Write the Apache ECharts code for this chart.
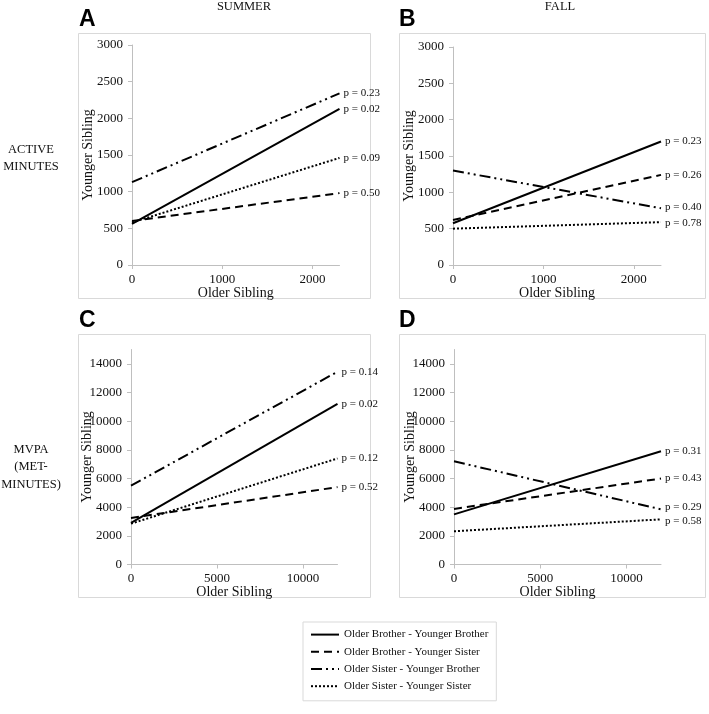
<!DOCTYPE html>
<html>
<head>
<meta charset="utf-8">
<script src="https://cdn.jsdelivr.net/npm/echarts@6/dist/echarts.min.js"></script>
<style>html,body{margin:0;padding:0;background:#fff;}#chart{width:709px;height:714px;}</style>
</head>
<body>
<div id="chart"></div>
<script>
// ---------------- data ----------------
const groups = ['Older Brother - Younger Brother', 'Older Brother - Younger Sister', 'Older Sister - Younger Brother', 'Older Sister - Younger Sister'];
const panelLetters = ['A', 'B', 'C', 'D'];
const seasons = ['SUMMER', 'FALL'];
const rowLabels = [['ACTIVE', 'MINUTES'], ['MVPA', '(MET-', 'MINUTES)']];
const xAxisName = 'Older Sibling';
const yAxisName = 'Younger Sibling';

// x range (older sibling) per panel
const xEndActive = 2300;
const xEndMvpa = 12000;
const yMaxActive = 3000;
const yMaxMvpa = 15000;
const xTicksActive = [0, 1000, 2000];
const xTicksMvpa = [0, 5000, 10000];
const yTicksActive = [0, 500, 1000, 1500, 2000, 2500, 3000];
const yTicksMvpa = [0, 2000, 4000, 6000, 8000, 10000, 12000, 14000];

// values at x = 0 and x = end, order = groups
const startA = [560, 600, 1130, 580];
const endA = [2130, 980, 2340, 1460];
const pA = ['0.02', '0.50', '0.23', '0.09'];

const startB = [575, 620, 1300, 500];
const endB = [1700, 1240, 780, 590];
const pB = ['0.23', '0.26', '0.40', '0.78'];

const startC = [2900, 3250, 5500, 2850];
const endC = [11200, 5400, 13450, 7400];
const pC = ['0.02', '0.52', '0.14', '0.12'];

const startD = [3500, 3880, 7200, 2320];
const endD = [7900, 6000, 3850, 3150];
const pD = ['0.31', '0.43', '0.29', '0.58'];

// ---------------- styles / layout ----------------
const SERIF = '"Liberation Serif", "DejaVu Serif", serif';
const SANS = '"Liberation Sans", Arial, sans-serif';
const dashTypes = ['solid', [8, 5], [11, 4, 2, 4, 2, 4], [2, 2]];
const grids = [
  { left: 132, top: 45, width: 207.5, height: 220 },
  { left: 453, top: 47, width: 208, height: 218 },
  { left: 131, top: 349.5, width: 206.5, height: 215 },
  { left: 454, top: 349.5, width: 207, height: 215 }
];
const boxes = [
  { x: 78.5, y: 33.5, w: 292, h: 265 },
  { x: 399.5, y: 33.5, w: 306, h: 265 },
  { x: 78.5, y: 334.5, w: 292, h: 263 },
  { x: 399.5, y: 334.5, w: 306, h: 263 }
];
const labelOffsets = [
  [[0, 0], [0, 0], [0, 0], [0, 0]],
  [[0, 0], [0, 0], [0, -1], [0, 1]],
  [[0, 0], [0, 0], [0, 0], [0, 0]],
  [[0, 0], [0, 0], [0, -2], [0, 2]]
];

const panels = [
  { start: startA, end: endA, p: pA, xEnd: xEndActive, yMax: yMaxActive, xt: xTicksActive, yt: yTicksActive },
  { start: startB, end: endB, p: pB, xEnd: xEndActive, yMax: yMaxActive, xt: xTicksActive, yt: yTicksActive },
  { start: startC, end: endC, p: pC, xEnd: xEndMvpa, yMax: yMaxMvpa, xt: xTicksMvpa, yt: yTicksMvpa },
  { start: startD, end: endD, p: pD, xEnd: xEndMvpa, yMax: yMaxMvpa, xt: xTicksMvpa, yt: yTicksMvpa }
];

const axisColor = '#bfbfbf';
const plain = v => String(v);
const xAxes = [], yAxes = [], series = [];
panels.forEach((pn, i) => {
  xAxes.push({
    type: 'value', gridIndex: i, min: 0, max: pn.xEnd,
    name: xAxisName, nameLocation: 'middle', nameGap: 21, nameMoveOverlap: false,
    nameTextStyle: { fontFamily: SERIF, fontSize: 14, color: '#111' },
    splitLine: { show: false },
    axisLine: { show: true, lineStyle: { color: axisColor, width: 1 } },
    axisTick: { show: true, length: 4, lineStyle: { color: axisColor }, customValues: pn.xt },
    axisLabel: { fontFamily: SERIF, fontSize: 13, color: '#111', margin: 8, customValues: pn.xt, formatter: plain }
  });
  yAxes.push({
    type: 'value', gridIndex: i, min: 0, max: pn.yMax,
    name: yAxisName, nameLocation: 'middle', nameGap: 37, nameMoveOverlap: false,
    nameTextStyle: { fontFamily: SERIF, fontSize: 14, color: '#111' },
    splitLine: { show: false },
    axisLine: { show: true, lineStyle: { color: axisColor, width: 1 } },
    axisTick: { show: true, length: 4, lineStyle: { color: axisColor }, customValues: pn.yt },
    axisLabel: { fontFamily: SERIF, fontSize: 13, color: '#111', margin: 9, customValues: pn.yt, formatter: plain }
  });
  groups.forEach((g, k) => {
    series.push({
      name: g, type: 'line', xAxisIndex: i, yAxisIndex: i,
      data: [[0, pn.start[k]], [pn.xEnd, pn.end[k]]],
      symbol: 'none', silent: true, animation: false,
      lineStyle: { color: '#000', width: 2, type: dashTypes[k], cap: 'butt' },
      itemStyle: { color: '#000' },
      endLabel: {
        show: true, formatter: 'p = ' + pn.p[k], distance: 4,
        fontFamily: SERIF, fontSize: 11, color: '#111',
        offset: labelOffsets[i][k]
      }
    });
  });
});

const graphics = [];
boxes.forEach(b => graphics.push({
  type: 'rect', shape: { x: b.x, y: b.y, width: b.w, height: b.h },
  style: { fill: 'none', stroke: '#d9d9d9', lineWidth: 1 }, silent: true
}));
const letterPos = [[79, 8], [399, 8], [79, 309], [399, 309]];
panelLetters.forEach((L, i) => graphics.push({
  type: 'text', x: letterPos[i][0], y: letterPos[i][1],
  style: { text: L, font: 'bold 23px ' + SANS, fill: '#000', textVerticalAlign: 'top' }
}));
const seasonX = [244, 560];
seasons.forEach((s, i) => graphics.push({
  type: 'text', x: seasonX[i], y: 0,
  style: { text: s, font: '12.5px ' + SERIF, fill: '#111', textAlign: 'center', textVerticalAlign: 'top' }
}));
const rowCenters = [158, 467];
rowLabels.forEach((lines, r) => {
  const n = lines.length, lh = 17.5;
  lines.forEach((t, j) => graphics.push({
    type: 'text', x: 31, y: rowCenters[r] + (j - (n - 1) / 2) * lh,
    style: { text: t, font: '12.5px ' + SERIF, fill: '#111', textAlign: 'center', textVerticalAlign: 'middle' }
  }));
});

const chart = echarts.init(document.getElementById('chart'), null, { renderer: 'canvas' });
chart.setOption({
  backgroundColor: '#fff',
  animation: false,
  grid: grids.map(g => Object.assign({ containLabel: false }, g)),
  xAxis: xAxes,
  yAxis: yAxes,
  series: series,
  legend: {
    data: groups, orient: 'vertical', left: 303, top: 622,
    padding: [7, 8, 9, 7], itemGap: 6, itemWidth: 28, itemHeight: 14,
    borderColor: '#d9d9d9', borderWidth: 1, selectedMode: false,
    itemStyle: { color: 'rgba(0,0,0,0)', borderWidth: 0, opacity: 0 },
    textStyle: { fontFamily: SERIF, fontSize: 11, color: '#111' }
  },
  graphic: graphics
});
</script>
</body>
</html>
